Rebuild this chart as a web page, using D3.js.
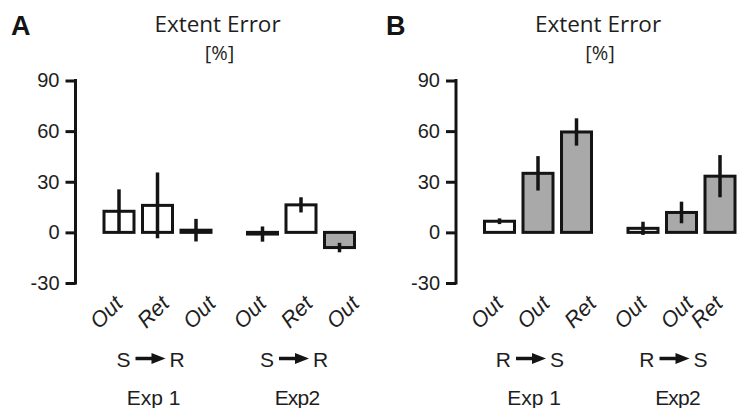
<!DOCTYPE html>
<html><head><meta charset="utf-8">
<script src="https://cdn.jsdelivr.net/npm/d3@7"></script>
<style>
html,body{margin:0;padding:0;background:#fff;overflow:hidden}
svg{display:block}
</style></head>
<body><svg id="chart" width="737" height="408"></svg>
<script>
// ---- data ----
const yTicks = [-30, 0, 30, 60, 90];
const experiments = ["Exp 1", "Exp2"];

const panelAValues = [12.5, 16, 1.3, -1, 16.3, -9];
const panelAErrors = [13, 19.5, 6.7, 4.5, 4.5, 2.8];
const panelAFilled = [false, false, false, false, false, true];
const panelALabels = ["Out", "Ret", "Out", "Out", "Ret", "Out"];
const panelADirection = ["S", "R"];

const panelBValues = [6.6, 35, 59.5, 2.4, 11.8, 33.3];
const panelBErrors = [1.7, 10.2, 8.1, 3.9, 6.4, 12.5];
const panelBFilled = [false, true, true, false, true, true];
const panelBLabels = ["Out", "Out", "Ret", "Out", "Out", "Ret"];
const panelBDirection = ["R", "S"];

// ---- drawing ----
const svg = d3.select("#chart");
const INK = "#141414";
const TXT = "#1e1e1e";
const GRAY = "#a9a9a9";
const FONT = "Liberation Sans, Arial, sans-serif";
const y = d3.scaleLinear().domain([-30, 90]).range([283, 80.5]);

function drawPanel(cfg) {
  const x0 = cfg.axisX;
  const g = svg.append("g");

  // panel letter
  g.append("text").attr("x", cfg.letterX).attr("y", 35)
    .attr("font-family", FONT)
    .attr("font-weight", "bold").attr("font-size", 27).attr("fill", INK)
    .text(cfg.letter);

  // title
  const tx = x0 + 142;
  g.append("text").attr("x", tx).attr("y", 32).attr("text-anchor", "middle")
    .attr("font-family", "Open Sans, sans-serif").attr("font-size", 22.5).attr("fill", TXT)
    .text("Extent Error");
  g.append("text").attr("x", tx + 2).attr("y", 60).attr("text-anchor", "middle")
    .attr("font-family", "Open Sans, sans-serif").attr("font-size", 20).attr("fill", TXT)
    .text("[%]");

  // axis
  const axis = d3.axisLeft(y).tickValues(yTicks).tickSize(10).tickSizeOuter(0).tickPadding(6)
    .tickFormat(d => String(d));
  const ag = g.append("g").attr("transform", `translate(${x0},0)`).call(axis);
  ag.select(".domain").attr("stroke", INK).attr("stroke-width", 3)
    .attr("d", `M0,${y(90) - 1.5}V${y(-30) + 1.5}`);
  ag.selectAll(".tick line").attr("stroke", INK).attr("stroke-width", 3);
  ag.selectAll(".tick text").attr("font-family", FONT)
    .attr("font-size", 20).attr("fill", TXT);

  // scales for bars
  const gx = d3.scaleBand().domain(experiments).range([x0 + 27, x0 + 27 + 253.5])
    .paddingInner(0.2334).paddingOuter(0);
  const ix = d3.scaleBand().domain([0, 1, 2]).range([0, gx.bandwidth()]).paddingInner(0.143);

  const data = cfg.values.map((v, i) => ({
    v, e: cfg.errors[i], filled: cfg.filled[i], label: cfg.labels[i],
    exp: experiments[Math.floor(i / 3)], k: i % 3
  }));
  const cx = d => gx(d.exp) + ix(d.k) + ix.bandwidth() / 2;

  g.selectAll("rect.bar").data(data).enter().append("rect").attr("class", "bar")
    .attr("x", d => gx(d.exp) + ix(d.k) + 1.5)
    .attr("width", ix.bandwidth() - 3)
    .attr("y", d => Math.min(y(d.v), y(0)))
    .attr("height", d => Math.abs(y(d.v) - y(0)))
    .attr("fill", d => d.filled ? GRAY : "#fff")
    .attr("stroke", INK).attr("stroke-width", 3);

  g.selectAll("line.err").data(data).enter().append("line").attr("class", "err")
    .attr("x1", cx).attr("x2", cx)
    .attr("y1", d => y(d.v + d.e)).attr("y2", d => y(d.v - d.e))
    .attr("stroke", INK).attr("stroke-width", 3.5);

  // rotated category labels
  g.selectAll("text.cat").data(data).enter().append("text").attr("class", "cat")
    .attr("transform", d => `translate(${Math.min(cx(d) + 5 + 8 * d.k, 724)},305) rotate(-45)`)
    .attr("text-anchor", "end")
    .attr("font-family", FONT)
    .attr("font-style", "italic").attr("font-size", 22).attr("fill", TXT)
    .text(d => d.label);

  // direction labels and experiment labels
  experiments.forEach(exp => {
    const c = gx(exp) + gx.bandwidth() / 2 - 7;
    g.append("text").attr("x", c - 20).attr("y", 367).attr("text-anchor", "end")
      .attr("font-family", FONT).attr("font-size", 21).attr("fill", TXT)
      .text(cfg.direction[0]);
    g.append("text").attr("x", c + 19).attr("y", 367).attr("text-anchor", "start")
      .attr("font-family", FONT).attr("font-size", 21).attr("fill", TXT)
      .text(cfg.direction[1]);
    const ay = 358.5;
    g.append("path")
      .attr("d", `M${c - 15},${ay - 1.8}H${c + 1}V${ay - 5.5}L${c + 15},${ay}L${c + 1},${ay + 5.5}V${ay + 1.8}H${c - 15}Z`)
      .attr("fill", INK);
    g.append("text").attr("x", c + 3).attr("y", 405).attr("text-anchor", "middle")
      .attr("font-family", FONT).attr("font-size", 21).attr("fill", TXT)
      .attr("letter-spacing", exp === "Exp2" ? -0.8 : 0)
      .text(exp);
  });
}

drawPanel({ letter: "A", letterX: 11, axisX: 75.5, values: panelAValues, errors: panelAErrors,
  filled: panelAFilled, labels: panelALabels, direction: panelADirection });
drawPanel({ letter: "B", letterX: 386, axisX: 456, values: panelBValues, errors: panelBErrors,
  filled: panelBFilled, labels: panelBLabels, direction: panelBDirection });
</script></body></html>
